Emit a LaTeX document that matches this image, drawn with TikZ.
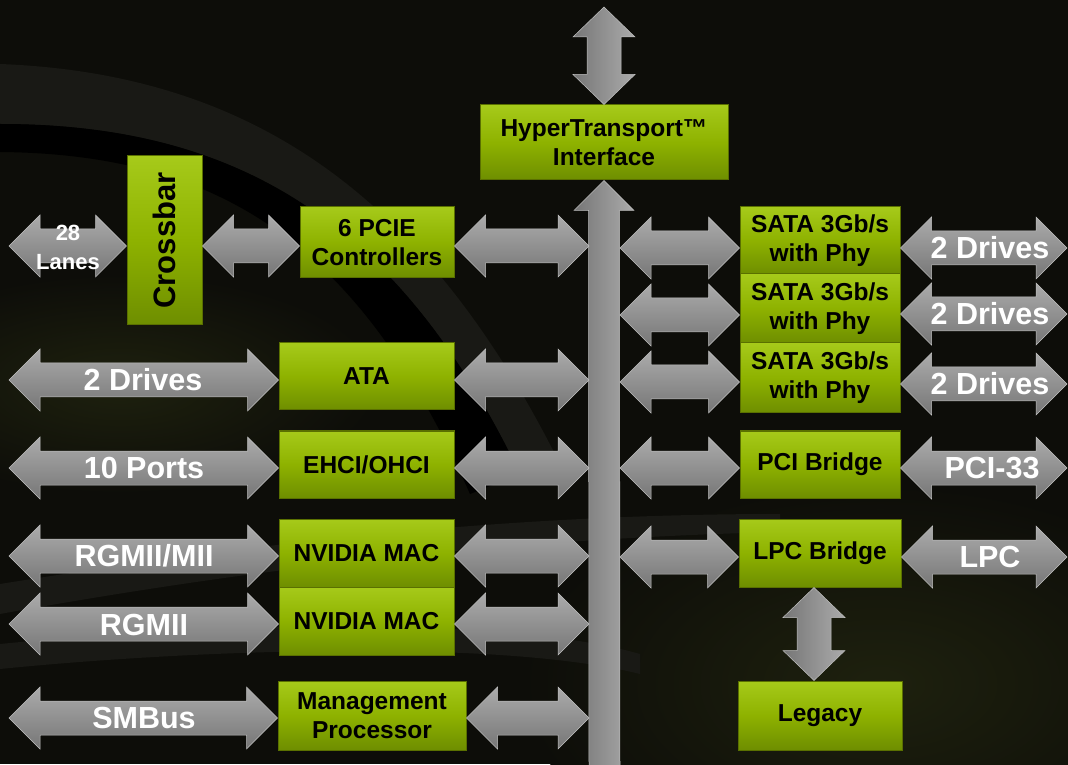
\documentclass[tikz,border=0pt]{standalone}
\usepackage{fontspec}
\setmainfont{Liberation Sans}
\definecolor{bgbase}{HTML}{0D0D09}
\definecolor{bgband}{HTML}{191915}
\definecolor{bgolive}{HTML}{1E210E}
\definecolor{gtop}{HTML}{A6CA1A}
\definecolor{gmid}{HTML}{8EB200}
\definecolor{gbot}{HTML}{6E8E00}
\definecolor{gedge}{HTML}{5A7000}
\definecolor{atop}{HTML}{ABABAB}
\definecolor{abot}{HTML}{767676}
\definecolor{aedge}{HTML}{C0C0C0}
\tikzset{
  blk/.style={draw=gedge, line width=1pt, top color=gtop, bottom color=gbot,
    middle color=gmid, text=black, align=center, inner sep=0pt,
    font=\bfseries\fontsize{24.5}{29}\selectfont},
  arrowsty/.style={top color=atop, bottom color=abot, draw=aedge, line width=0.5pt},
  varrowsty/.style={left color=abot, right color=atop, draw=aedge, line width=0.5pt},
  lbl/.style={text=white, font=\bfseries\fontsize{30.5}{32}\selectfont, inner sep=0pt},
}
% horizontal double arrow between two named points at the same height
\newcommand\hdarrow[2]{%
  \path[arrowsty] (#1) -- ([shift={(31,31)}]#1) -- ([shift={(31,17)}]#1)
   -- ([shift={(-31,17)}]#2) -- ([shift={(-31,31)}]#2) -- (#2)
   -- ([shift={(-31,-31)}]#2) -- ([shift={(-31,-17)}]#2)
   -- ([shift={(31,-17)}]#1) -- ([shift={(31,-31)}]#1) -- cycle;}
% vertical double arrow, #1 top tip, #2 bottom tip
\newcommand\vdarrow[2]{%
  \path[varrowsty] (#1) -- ([shift={(31,-30)}]#1) -- ([shift={(17,-30)}]#1)
   -- ([shift={(17,30)}]#2) -- ([shift={(31,30)}]#2) -- (#2)
   -- ([shift={(-31,30)}]#2) -- ([shift={(-17,30)}]#2)
   -- ([shift={(-17,-30)}]#1) -- ([shift={(-31,-30)}]#1) -- cycle;}
\begin{document}
\begin{tikzpicture}[x=1pt,y=1pt]
\useasboundingbox (0,0) rectangle (1068,764);
\begin{scope}
\clip (0,0) rectangle (1068,764);
% background
\fill[bgbase] (0,0) rectangle (1068,764);
\shade[inner color=bgolive, outer color=bgbase] (880,80) ellipse (360 and 200);
\shade[inner color=bgolive, outer color=bgbase] (120,380) ellipse (260 and 110);
\fill[bgband]
  (0,700) .. controls (260,690) and (430,560) .. (560,300)
  -- (520,290) .. controls (400,540) and (240,640) .. (0,640) -- cycle;
\fill[black]
  (0,640) .. controls (240,640) and (400,540) .. (520,290)
  -- (470,270) .. controls (360,520) and (220,610) .. (0,612) -- cycle;
\fill[bgband]
  (0,180) .. controls (250,220) and (500,250) .. (780,250)
  -- (780,232) .. controls (500,225) and (250,195) .. (0,150) -- cycle;
\fill[bgband]
  (0,120) .. controls (200,140) and (500,150) .. (640,110)
  -- (640,90) .. controls (500,125) and (200,115) .. (0,95) -- cycle;

% blocks
\node[blk, minimum width=248, minimum height=75] (ht) at (604,621.5)
  {HyperTransport™\\Interface};
\node[blk, minimum width=169, minimum height=75, rotate=90,
  font=\bfseries\fontsize{31}{34}\selectfont] (xbar) at (164.5,523.5) {Crossbar};
\node[blk, minimum width=154, minimum height=71] (pcie) at (377,521.5)
  {6 PCIE\\Controllers};
\node[blk, minimum width=175, minimum height=67] (ata) at (366.5,387.5) {ATA};
\node[blk, minimum width=175, minimum height=67] (ehci) at (366.5,299.5) {EHCI/OHCI};
\node[blk, minimum width=175, minimum height=68] (mac1) at (366.5,211) {NVIDIA MAC};
\node[blk, minimum width=175, minimum height=68] (mac2) at (366.5,143) {NVIDIA MAC};
\node[blk, minimum width=188, minimum height=69] (mp) at (372,48.5)
  {Management\\Processor};
\node[blk, minimum width=160, minimum height=67] (sata1) at (820,523.5)
  {SATA 3Gb/s\\with Phy};
\node[blk, minimum width=160, minimum height=69] (sata2) at (820,455.5)
  {SATA 3Gb/s\\with Phy};
\node[blk, minimum width=160, minimum height=70] (sata3) at (820,386)
  {SATA 3Gb/s\\with Phy};
\node[blk, minimum width=160, minimum height=67] (pci) at (820,299.5) {PCI Bridge};
\node[blk, minimum width=162, minimum height=68] (lpc) at (820,211) {LPC Bridge};
\node[blk, minimum width=164, minimum height=69] (legacy) at (820,48.5) {Legacy};

% main bus (vertical, from HyperTransport down)
\coordinate (bustip) at (ht.south);
\coordinate (busend) at (604.5,-6);
\path[varrowsty] (bustip) -- ([shift={(30,-30)}]bustip) -- ([shift={(15.5,-30)}]bustip)
  -- ([shift={(15.5,0)}]busend) -- ([shift={(-15.5,0)}]busend)
  -- ([shift={(-15.5,-30)}]bustip) -- ([shift={(-30,-30)}]bustip) -- cycle;
\coordinate (busL) at (589,0);
\coordinate (busR) at (620,0);

% top arrow
\coordinate (httop) at (604,757);
\coordinate (htbot) at (ht.north);
\vdarrow{httop}{htbot}

% LPC - Legacy
\coordinate (lv1) at ([xshift=-6]lpc.south);
\coordinate (lv2) at ([xshift=-6]legacy.north);
\vdarrow{lv1}{lv2}

% left side arrows
\coordinate (l28) at (9,518);
\coordinate (xw) at (xbar.north |- l28);
\hdarrow{l28}{xw}
\coordinate (xe) at (xbar.south |- l28);
\coordinate (pw) at (pcie.west |- l28);
\hdarrow{xe}{pw}
\coordinate (pe) at (pcie.east |- l28);
\coordinate (b1) at (busL |- l28);
\hdarrow{pe}{b1}

\coordinate (lata) at (9,384);
\coordinate (ataw) at (ata.west |- lata);
\coordinate (atae) at (ata.east |- lata);
\coordinate (b2) at (busL |- lata);
\hdarrow{lata}{ataw}
\hdarrow{atae}{b2}

\coordinate (lehci) at (9,296);
\coordinate (ehciw) at (ehci.west |- lehci);
\coordinate (ehcie) at (ehci.east |- lehci);
\coordinate (b3) at (busL |- lehci);
\hdarrow{lehci}{ehciw}
\hdarrow{ehcie}{b3}

\coordinate (lmac1) at (9,208);
\coordinate (mac1w) at (mac1.west |- lmac1);
\coordinate (mac1e) at (mac1.east |- lmac1);
\coordinate (b4) at (busL |- lmac1);
\hdarrow{lmac1}{mac1w}
\hdarrow{mac1e}{b4}

\coordinate (lmac2) at (9,140);
\coordinate (mac2w) at (mac2.west |- lmac2);
\coordinate (mac2e) at (mac2.east |- lmac2);
\coordinate (b5) at (busL |- lmac2);
\hdarrow{lmac2}{mac2w}
\hdarrow{mac2e}{b5}

\coordinate (lmp) at (9,46);
\coordinate (mpw) at (mp.west |- lmp);
\coordinate (mpe) at (mp.east |- lmp);
\coordinate (b6) at (busL |- lmp);
\hdarrow{lmp}{mpw}
\hdarrow{mpe}{b6}

% right side arrows
\coordinate (r1) at (busR |- 0,516);
\coordinate (s1w) at (sata1.west |- r1);
\hdarrow{r1}{s1w}
\coordinate (r2) at (busR |- 0,449);
\coordinate (s2w) at (sata2.west |- r2);
\hdarrow{r2}{s2w}
\coordinate (r3) at (busR |- 0,382);
\coordinate (s3w) at (sata3.west |- r3);
\hdarrow{r3}{s3w}
\coordinate (r4) at (busR |- 0,296);
\coordinate (pciw) at (pci.west |- r4);
\hdarrow{r4}{pciw}
\coordinate (r5) at (busR |- 0,207);
\coordinate (lpcw) at (lpc.west |- r5);
\hdarrow{r5}{lpcw}

\coordinate (d1a) at (sata1.east |- 0,516);
\coordinate (d1b) at (1067,516);
\hdarrow{d1a}{d1b}
\coordinate (d2a) at (sata2.east |- 0,450);
\coordinate (d2b) at (1067,450);
\hdarrow{d2a}{d2b}
\coordinate (d3a) at (sata3.east |- 0,380);
\coordinate (d3b) at (1067,380);
\hdarrow{d3a}{d3b}
\coordinate (d4a) at (pci.east |- 0,296);
\coordinate (d4b) at (1067,296);
\hdarrow{d4a}{d4b}
\coordinate (d5a) at (lpc.east |- 0,207);
\coordinate (d5b) at (1067,207);
\hdarrow{d5a}{d5b}

% labels
\node[lbl, align=center, font=\bfseries\fontsize{22}{29}\selectfont] (t28) at (68,517) {28\\Lanes};
\node[lbl] (tdrv) at (143,384) {2 Drives};
\node[lbl] (tports) at (144,296) {10 Ports};
\node[lbl] (trgmii1) at (144,208) {RGMII/MII};
\node[lbl] (trgmii2) at (144,139) {RGMII};
\node[lbl] (tsmb) at (144,46) {SMBus};
\node[lbl] (tdr1) at (990,516) {2 Drives};
\node[lbl] (tdr2) at (990,450) {2 Drives};
\node[lbl] (tdr3) at (990,380) {2 Drives};
\node[lbl] (tpci) at (992,296) {PCI-33};
\node[lbl] (tlpc) at (990,207) {LPC};
\end{scope}
\end{tikzpicture}
\end{document}
